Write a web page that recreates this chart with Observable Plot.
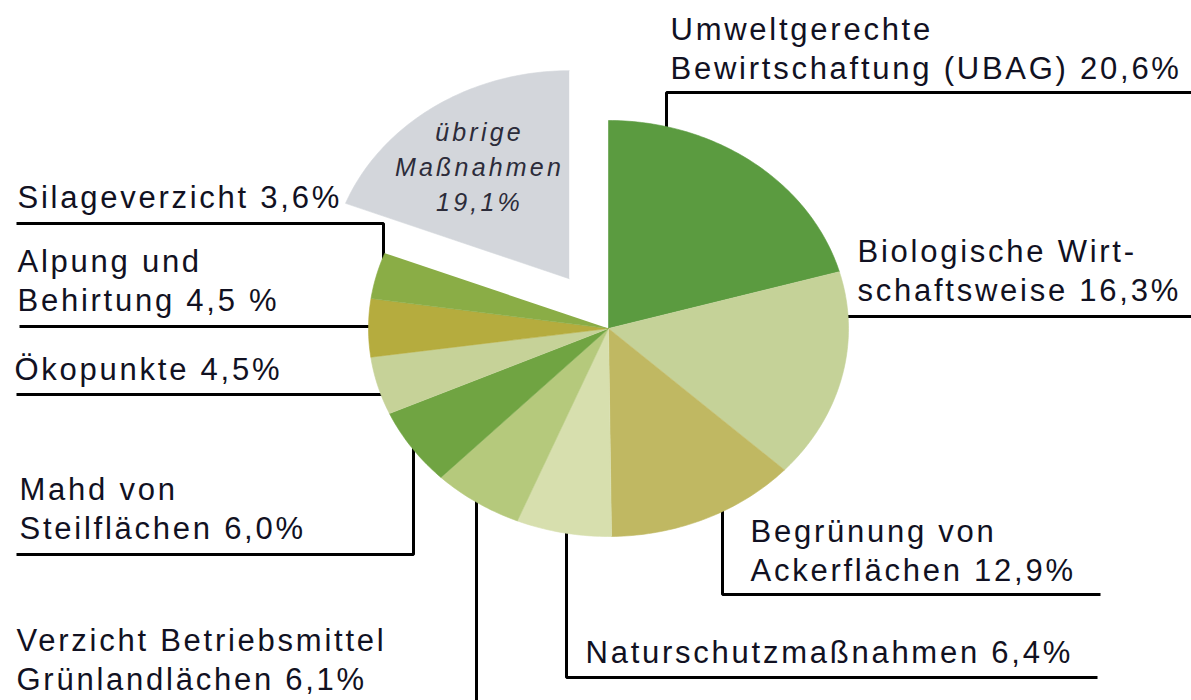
<!DOCTYPE html>
<html>
<head>
<meta charset="utf-8">
<script src="https://cdn.jsdelivr.net/npm/d3@7"></script>
<script src="https://cdn.jsdelivr.net/npm/@observablehq/plot@0.6"></script>
<style>
  html, body { margin: 0; padding: 0; background: #fff; }
  #chart { width: 1191px; height: 700px; overflow: hidden; }
</style>
</head>
<body>
<div id="chart"></div>
<script>
// ---- data ----
const names = [
  "Umweltgerechte\nBewirtschaftung (UBAG)",
  "Biologische Wirt-\nschaftsweise",
  "Begrünung von\nAckerflächen",
  "Naturschutzmaßnahmen",
  "Verzicht Betriebsmittel\nGrünlandlächen",
  "Mahd von\nSteilflächen",
  "Ökopunkte",
  "Alpung und\nBehirtung",
  "Silageverzicht",
  "übrige\nMaßnahmen"
];
const values = [20.6, 16.3, 12.9, 6.4, 6.1, 6.0, 4.5, 4.5, 3.6, 19.1];
const percentSeparator = [" ", " ", " ", " ", " ", " ", " ", " ", " ", "\n"];
const percentSign = ["%", "%", "%", "%", "%", "%", "%", " %", "%", "%"];
const colors = ["#5b9b40", "#c5d298", "#c0b862", "#d7dfae", "#b5c97c",
                "#70a442", "#c6d298", "#b5ac3e", "#8aad46", "#d3d6db"];

// ---- layout (positions / styles, not data) ----
const cx = 608, cy = 328, rx = 240, ry = 208;
const explode = [0, 0, 0, 0, 0, 0, 0, 0, 0, 0.29];
// label anchors: x, baseline of last line; leader: v = vertical from pie edge at x, h = horizontal at y
const labelLayout = [
  {x: 670, y: 78,  leader: {kind: "v", at: 666, side: -1, elbow: 92,  end: 1191}},
  {x: 857, y: 300, leader: {kind: "h", at: 316, side: 1,  end: 1191}},
  {x: 750, y: 580, leader: {kind: "v", at: 722, side: 1,  elbow: 594, end: 1100}},
  {x: 585, y: 662, leader: {kind: "v", at: 566, side: 1,  elbow: 677, end: 1097}},
  {x: 16,  y: 689, leader: {kind: "v", at: 476, side: 1,  elbow: 702, end: null}},
  {x: 19,  y: 538, leader: {kind: "v", at: 413, side: 1,  elbow: 554, end: 16}},
  {x: 14,  y: 379, leader: {kind: "h", at: 394, side: -1, end: 16}},
  {x: 17,  y: 310, leader: {kind: "h", at: 326, side: -1, end: 19}},
  {x: 17,  y: 207, leader: {kind: "v", at: 383, side: -1, elbow: 223, end: 16}},
  null
];
const innerLabel = {x: 479, y: 210};

const fmt = v => v.toFixed(1).replace(".", ",");
const labelText = names.map((n, i) => n + percentSeparator[i] + fmt(values[i]) + percentSign[i]);

// ---- geometry ----
const arcs = d3.pie().sort(null).value(d => d)(values);
const slicePoints = [];
arcs.forEach((a, i) => {
  const mid = (a.startAngle + a.endAngle) / 2;
  const ox = explode[i] * rx * Math.sin(mid);
  const oy = -explode[i] * ry * Math.cos(mid);
  slicePoints.push({key: i, x: cx + ox, y: cy + oy, color: colors[i]});
  const n = Math.max(8, Math.ceil((a.endAngle - a.startAngle) * 180 / Math.PI));
  for (let k = 0; k <= n; k++) {
    const t = a.startAngle + (a.endAngle - a.startAngle) * k / n;
    slicePoints.push({key: i, x: cx + ox + rx * Math.sin(t), y: cy + oy - ry * Math.cos(t), color: colors[i]});
  }
});

const edgeY = (x, side) => { const t = (x - cx) / rx; return cy + side * (ry * Math.sqrt(Math.max(0, 1 - t * t)) - 3); };
const edgeX = (y, side) => { const t = (y - cy) / ry; return cx + side * (rx * Math.sqrt(Math.max(0, 1 - t * t)) - 3); };

const leaderPoints = [];
labelLayout.forEach((L, i) => {
  if (!L) return;
  const l = L.leader;
  let pts;
  if (l.kind === "v") {
    pts = [[l.at, edgeY(l.at, l.side)], [l.at, l.elbow]];
    if (l.end != null) pts.push([l.end, l.elbow]);
  } else {
    pts = [[edgeX(l.at, l.side), l.at], [l.end, l.at]];
  }
  pts.forEach(([x, y]) => leaderPoints.push({key: i, x, y}));
});

const outerLabels = labelLayout.map((L, i) => L ? {x: L.x, y: L.y, text: labelText[i]} : null).filter(d => d);
const inner = [{x: innerLabel.x, y: innerLabel.y, text: labelText[labelText.length - 1]}];

const font = "'Liberation Sans', Arial, Helvetica, sans-serif";

const chart = Plot.plot({
  width: 1191,
  height: 700,
  margin: 0,
  x: {domain: [0, 1191], range: [0, 1191], axis: null},
  y: {domain: [0, 700], range: [0, 700], axis: null},
  color: {type: "identity"},
  style: {background: "#fff", fontFamily: font, letterSpacing: "2.75px"},
  marks: [
    Plot.line(leaderPoints, {x: "x", y: "y", z: "key", stroke: "#000", strokeWidth: 3, strokeLinejoin: "miter", strokeLinecap: "butt"}),
    Plot.line(slicePoints, {x: "x", y: "y", z: "key", fill: "color", stroke: "color", strokeWidth: 0.6, curve: "linear"}),
    Plot.text(outerLabels, {x: "x", y: "y", text: "text", textAnchor: "start", lineAnchor: "bottom",
      lineHeight: 1.23, fontSize: 31, fill: "#111122", fontFamily: font}),
    Plot.text(inner, {x: "x", y: "y", text: "text", textAnchor: "middle", lineAnchor: "bottom",
      lineHeight: 1.4, fontSize: 25, fontStyle: "italic", fill: "#2c2c3a", fontFamily: font})
  ]
});
const groups = chart.querySelectorAll('g[aria-label="text"]');
if (groups[1]) groups[1].style.letterSpacing = "3.2px";
document.getElementById("chart").appendChild(chart);
</script>
</body>
</html>
